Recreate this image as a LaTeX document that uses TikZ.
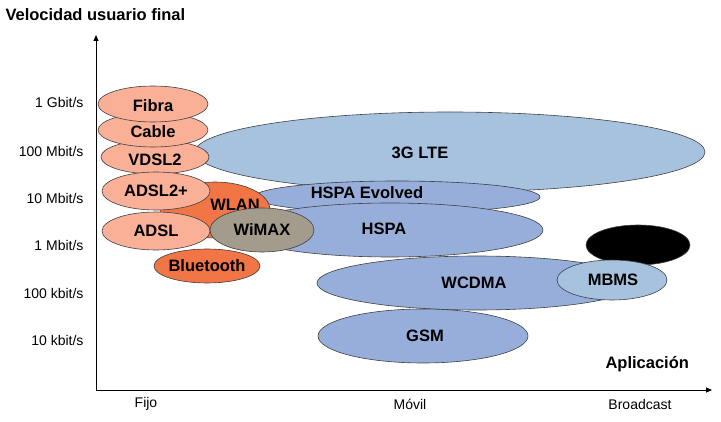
\documentclass[tikz,border=0pt]{standalone}
\usepackage{fontspec}
\setmainfont{Liberation Sans}
\usetikzlibrary{arrows.meta}
\definecolor{salmon}{HTML}{F9B096}
\definecolor{orng}{HTML}{F27545}
\definecolor{lte}{HTML}{A6C2DE}
\definecolor{hspa}{HTML}{97AEDA}
\definecolor{wmx}{HTML}{A39B8C}
\begin{document}
\begin{tikzpicture}[x=1pt,y=-1pt,
  lab/.style={font=\fontsize{16.5}{16.5}\selectfont\bfseries},
  tick/.style={font=\fontsize{14}{14}\selectfont,anchor=east},
  xl/.style={font=\fontsize{14}{14}\selectfont}]
\useasboundingbox (0,0) rectangle (721,422);
\tikzset{ell/.style args={#1/#2/#3}{draw=black!75,line width=0.6pt,fill=#3,x radius=#1,y radius=#2}}
% axes
\coordinate (o) at (96,390);
\coordinate (ytop) at (96,35);
\coordinate (xend) at (712,390);
\draw[line width=1pt,-{Triangle[length=6pt,width=5pt]}] (o) -- (ytop);
\draw[line width=1pt,-{Triangle[length=6pt,width=5pt]}] (o) -- (xend);
% blue
\draw[ell=255/40/lte] (450,152) ellipse [];
\node[lab] (lte) at (420,153) {3G LTE};
\draw[ell=143/16/hspa] (397,197) ellipse [];
\node[lab] (hspae) at (367,193) {HSPA Evolved};
\draw[ell=153/27/hspa] (390,230) ellipse [];
\node[lab] (hspa) at (384,229) {HSPA};
\draw[ell=160/27/hspa] (477,283) ellipse [];
\node[lab] (wcdma) at (474,283) {WCDMA};
\draw[ell=105/27/hspa] (423,336) ellipse [];
\node[lab] (gsm) at (425,336) {GSM};
\draw[ell=52/20/black] (638,245) ellipse [];
\draw[ell=55/20/lte] (612,280) ellipse [];
\node[lab] (mbms) at (613,280) {MBMS};
% fixed
\draw[ell=55/28/orng] (215,210) ellipse [];
\node[lab] (wlan) at (235,205) {WLAN};
\draw[ell=53/17/orng] (207,266) ellipse [];
\node[lab] (bt) at (207,266) {Bluetooth};
\draw[ell=52/22/wmx] (262,230) ellipse [];
\node[lab] (wimax) at (262,230) {WiMAX};
\draw[ell=54/19/salmon] (156,231) ellipse [];
\node[lab] (adsl) at (156,231) {ADSL};
\draw[ell=54/17/salmon] (155,157) ellipse [];
\node[lab] (vdsl) at (155,160) {VDSL2};
\draw[ell=54/19/salmon] (156,191) ellipse [];
\node[lab] (adsl2) at (156,191) {ADSL2+};
\draw[ell=55/17/salmon] (153,130) ellipse [];
\node[lab] (cable) at (153,132) {Cable};
\draw[ell=55/18/salmon] (153,104) ellipse [];
\node[lab] (fibra) at (153,106) {Fibra};
% labels
\node[tick] (t1) at (87,102) {1 Gbit/s};
\node[tick] (t2) at (87,151) {100 Mbit/s};
\node[tick] (t3) at (87,198) {10 Mbit/s};
\node[tick] (t4) at (87,245) {1 Mbit/s};
\node[tick] (t5) at (87,293) {100 kbit/s};
\node[tick] (t6) at (87,340) {10 kbit/s};
\node[xl] (fijo) at (146,404) {Fijo};
\node[xl] (movil) at (410,404) {Móvil};
\node[xl] (bc) at (640,404) {Broadcast};
\node[lab,anchor=west] (title) at (2,15) {Velocidad usuario final};
\node[lab,anchor=west] (apl) at (602,364) {Aplicación};
\end{tikzpicture}
\end{document}
